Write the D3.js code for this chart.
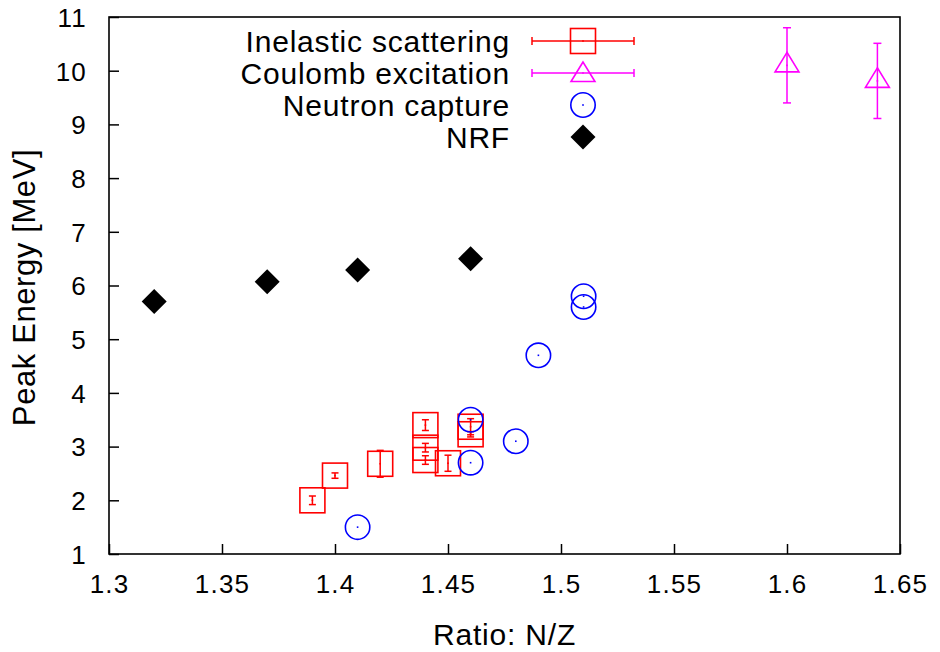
<!DOCTYPE html>
<html>
<head>
<meta charset="utf-8">
<script src="https://d3js.org/d3.v7.min.js"></script>
<style>
  body { margin: 0; background: #fff; }
  text { font-family: "Liberation Sans", Arial, sans-serif; fill: #000; }
</style>
</head>
<body>
<script>
// data
var xTicks = [1.3, 1.35, 1.4, 1.45, 1.5, 1.55, 1.6, 1.65];
var yTicks = [1, 2, 3, 4, 5, 6, 7, 8, 9, 10, 11];

var inelasticX = [1.39, 1.40, 1.42, 1.44, 1.44, 1.44, 1.45, 1.46, 1.46];
var inelasticY = [2.0, 2.46, 2.68, 3.4, 2.98, 2.75, 2.69, 3.37, 3.23];
var inelasticErr = [0.08, 0.05, 0.25, 0.1, 0.08, 0.08, 0.15, 0.15, 0.05];

var coulombX = [1.6, 1.64];
var coulombY = [10.1, 9.81];
var coulombErr = [0.7, 0.7];

var neutronX = [1.41, 1.46, 1.46, 1.48, 1.49, 1.51, 1.51];
var neutronY = [1.5, 2.7, 3.5, 3.1, 4.7, 5.8, 5.6];

var nrfX = [1.32, 1.37, 1.41, 1.46];
var nrfY = [5.7, 6.07, 6.29, 6.5];

var legendLabels = ["Inelastic scattering", "Coulomb excitation", "Neutron capture", "NRF"];

var width = 940, height = 652;
var plotLeft = 109, plotRight = 900, plotTop = 17, plotBottom = 554;

var svg = d3.select("body").append("svg")
    .attr("width", width)
    .attr("height", height);

var x = d3.scaleLinear().domain([1.3, 1.65]).range([plotLeft, plotRight]);
var y = d3.scaleLinear().domain([1, 11]).range([plotBottom, plotTop]);

// axes, ticks pointing inward, no mirror
var xAxis = d3.axisBottom(x).tickValues(xTicks).tickSizeInner(-10).tickSizeOuter(0)
    .tickPadding(21).tickFormat(d3.format("~g"));
var yAxis = d3.axisLeft(y).tickValues(yTicks).tickSizeInner(-10).tickSizeOuter(0)
    .tickPadding(22).tickFormat(d3.format("d"));

var gx = svg.append("g").attr("transform", "translate(0," + plotBottom + ")").call(xAxis);
var gy = svg.append("g").attr("transform", "translate(" + plotLeft + ",0)").call(yAxis);
[gx, gy].forEach(function(g) {
  g.attr("font-size", null).attr("font-family", null);
  g.select(".domain").remove();
  g.selectAll(".tick line").attr("stroke", "#000").attr("stroke-width", 1.5);
  g.selectAll(".tick text")
    .style("font-size", "26px")
    .attr("letter-spacing", 1.2)
    .attr("fill", "#000");
});
gx.selectAll(".tick text").attr("dy", "0.71em");
gy.selectAll(".tick text").attr("dy", "0.36em");

// frame
svg.append("rect")
    .attr("x", plotLeft).attr("y", plotTop)
    .attr("width", plotRight - plotLeft).attr("height", plotBottom - plotTop)
    .attr("fill", "none").attr("stroke", "#000").attr("stroke-width", 1.6);

// axis titles
svg.append("text")
    .attr("x", (plotLeft + plotRight) / 2).attr("y", 645)
    .attr("text-anchor", "middle")
    .style("font-size", "30px").attr("letter-spacing", 0.8)
    .text("Ratio: N/Z");

svg.append("text")
    .attr("transform", "translate(35," + ((plotTop + plotBottom) / 2 + 2) + ") rotate(-90)")
    .attr("text-anchor", "middle")
    .style("font-size", "31px").attr("letter-spacing", 0.6)
    .text("Peak Energy [MeV]");

var red = "#ff0000", magenta = "#ff00ff", blue = "#0000ff";
var plot = svg.append("g");

function yErrorBar(g, cx, lo, hi, color, capW) {
  g.append("line").attr("x1", cx).attr("x2", cx).attr("y1", lo).attr("y2", hi)
    .attr("stroke", color).attr("stroke-width", 1.5);
  [lo, hi].forEach(function(v) {
    g.append("line").attr("x1", cx - capW / 2).attr("x2", cx + capW / 2)
      .attr("y1", v).attr("y2", v)
      .attr("stroke", color).attr("stroke-width", 1.5);
  });
}

function dot(g, cx, cy, color) {
  g.append("rect").attr("x", cx - 0.8).attr("y", cy - 0.8)
    .attr("width", 1.6).attr("height", 1.6).attr("fill", color);
}

function square(g, cx, cy, color) {
  g.append("rect").attr("x", cx - 12.5).attr("y", cy - 12.5)
    .attr("width", 25).attr("height", 25)
    .attr("fill", "none").attr("stroke", color).attr("stroke-width", 1.6);
}

function triangle(g, cx, cy, color) {
  var r = 13;
  var pts = [[cx, cy - r], [cx - r * 0.92, cy + r / 2], [cx + r * 0.92, cy + r / 2]];
  g.append("polygon").attr("points", pts.map(function(p) { return p.join(","); }).join(" "))
    .attr("fill", "none").attr("stroke", color).attr("stroke-width", 1.6);
}

function circle(g, cx, cy, color) {
  g.append("circle").attr("cx", cx).attr("cy", cy).attr("r", 12.2)
    .attr("fill", "none").attr("stroke", color).attr("stroke-width", 1.6);
}

function diamond(g, cx, cy) {
  var r = 12.5;
  g.append("polygon")
    .attr("points", [[cx, cy - r], [cx + r, cy], [cx, cy + r], [cx - r, cy]].map(function(p) { return p.join(","); }).join(" "))
    .attr("fill", "#000");
}

// Inelastic scattering
for (var i = 0; i < inelasticX.length; i++) {
  var cx = x(inelasticX[i]), cy = y(inelasticY[i]);
  yErrorBar(plot, cx, y(inelasticY[i] - inelasticErr[i]), y(inelasticY[i] + inelasticErr[i]), red, 7);
  square(plot, cx, cy, red);
  dot(plot, cx, cy, red);
}

// Coulomb excitation
for (var i = 0; i < coulombX.length; i++) {
  var cx = x(coulombX[i]), cy = y(coulombY[i]);
  yErrorBar(plot, cx, y(coulombY[i] - coulombErr[i]), y(coulombY[i] + coulombErr[i]), magenta, 8);
  triangle(plot, cx, cy, magenta);
  dot(plot, cx, cy, magenta);
}

// Neutron capture
for (var i = 0; i < neutronX.length; i++) {
  var cx = x(neutronX[i]), cy = y(neutronY[i]);
  circle(plot, cx, cy, blue);
  dot(plot, cx, cy, blue);
}

// NRF
for (var i = 0; i < nrfX.length; i++) {
  diamond(plot, x(nrfX[i]), y(nrfY[i]));
}

// legend
var legend = svg.append("g");
var keyX = 583, textX = 510;
legendLabels.forEach(function(label, i) {
  var cy = 41 + i * 32;
  legend.append("text")
    .attr("x", textX).attr("y", cy + 10.5)
    .attr("text-anchor", "end")
    .style("font-size", "30px").attr("letter-spacing", 0.8)
    .text(label);
  if (i === 0 || i === 1) {
    var col = i === 0 ? red : magenta;
    legend.append("line").attr("x1", 532).attr("x2", 634).attr("y1", cy).attr("y2", cy)
      .attr("stroke", col).attr("stroke-width", 1.5);
    [532, 634].forEach(function(v) {
      legend.append("line").attr("x1", v).attr("x2", v).attr("y1", cy - 4).attr("y2", cy + 4)
        .attr("stroke", col).attr("stroke-width", 1.5);
    });
    if (i === 0) square(legend, keyX, cy, red); else triangle(legend, keyX, cy + 2, magenta);
    dot(legend, keyX, cy, col);
  } else if (i === 2) {
    circle(legend, keyX, cy, blue);
    dot(legend, keyX, cy, blue);
  } else {
    diamond(legend, keyX, cy);
  }
});
</script>
</body>
</html>
